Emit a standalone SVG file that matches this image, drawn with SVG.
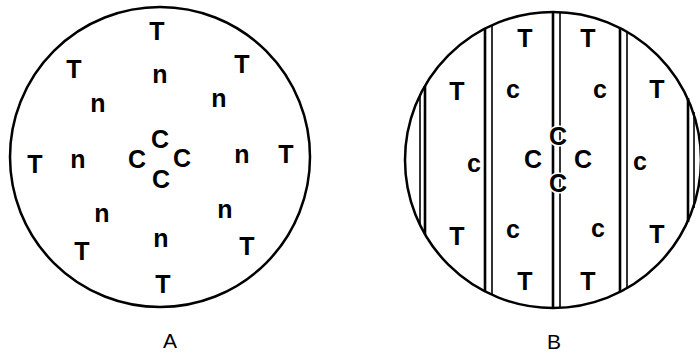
<svg xmlns="http://www.w3.org/2000/svg" width="700" height="356" viewBox="0 0 700 356">
<style>
.ring{fill:none;stroke:#000;stroke-width:2.5}
.t{font-family:"Liberation Sans Narrow","Liberation Sans",Arial,sans-serif;font-size:25px;font-weight:bold;fill:#000;text-anchor:middle}
.lbl{font-family:"Liberation Sans",Arial,sans-serif;font-size:21px;fill:#000;text-anchor:middle}
.thk{stroke:#000;stroke-width:2.6}
.thn{stroke:#000;stroke-width:1.6}
.halo{paint-order:stroke;stroke:#fff;stroke-width:3px}
</style>
<rect width="700" height="356" fill="#fff"/>
<g id="diagramA">
<circle class="ring" cx="160" cy="157" r="150"/>
<text class="t" x="157" y="40">T</text>
<text class="t" x="74" y="78">T</text>
<text class="t" x="242" y="73">T</text>
<text class="t" x="160" y="83">n</text>
<text class="t" x="98" y="112">n</text>
<text class="t" x="219" y="107">n</text>
<text class="t" x="160" y="148">C</text>
<text class="t" x="137" y="168">C</text>
<text class="t" x="182" y="167">C</text>
<text class="t" x="161" y="188">C</text>
<text class="t" x="35" y="173">T</text>
<text class="t" x="78" y="168">n</text>
<text class="t" x="242" y="163">n</text>
<text class="t" x="286" y="163">T</text>
<text class="t" x="102" y="222">n</text>
<text class="t" x="225" y="218">n</text>
<text class="t" x="161" y="247">n</text>
<text class="t" x="82" y="260">T</text>
<text class="t" x="247" y="255">T</text>
<text class="t" x="163" y="293">T</text>
<text class="lbl" x="170" y="348">A</text>
</g>
<g id="diagramB">
<circle class="ring" cx="553" cy="160" r="148"/>
<g id="lines">
<line class="thn" x1="420" y1="94" x2="420" y2="226"/>
<line class="thk" x1="425" y1="86" x2="425" y2="234"/>
<line class="thk" x1="485" y1="29" x2="485" y2="291"/>
<line class="thn" x1="492" y1="25" x2="492" y2="295"/>
<line class="thk" x1="553" y1="12" x2="553" y2="308"/>
<line class="thn" x1="560" y1="12" x2="560" y2="308"/>
<line class="thk" x1="620" y1="28" x2="620" y2="292"/>
<line class="thn" x1="627" y1="32" x2="627" y2="288"/>
<line class="thk" x1="688" y1="98" x2="688" y2="222"/>
<line class="thn" x1="694" y1="112" x2="694" y2="208"/>
</g>
<text class="t" x="525" y="47">T</text>
<text class="t" x="588" y="47">T</text>
<text class="t" x="457" y="100">T</text>
<text class="t" x="513" y="98">c</text>
<text class="t" x="600" y="98">c</text>
<text class="t" x="657" y="98">T</text>
<text class="t" x="474" y="172">c</text>
<text class="t" x="533" y="168">C</text>
<text class="t" x="583" y="168">C</text>
<text class="t" x="640" y="170">c</text>
<text class="t halo" x="558" y="145">C</text>
<text class="t halo" x="558" y="192">C</text>
<text class="t" x="457" y="245">T</text>
<text class="t" x="513" y="238">c</text>
<text class="t" x="598" y="237">c</text>
<text class="t" x="657" y="243">T</text>
<text class="t" x="525" y="290">T</text>
<text class="t" x="588" y="290">T</text>
<text class="lbl" x="554" y="349">B</text>
</g>
</svg>
